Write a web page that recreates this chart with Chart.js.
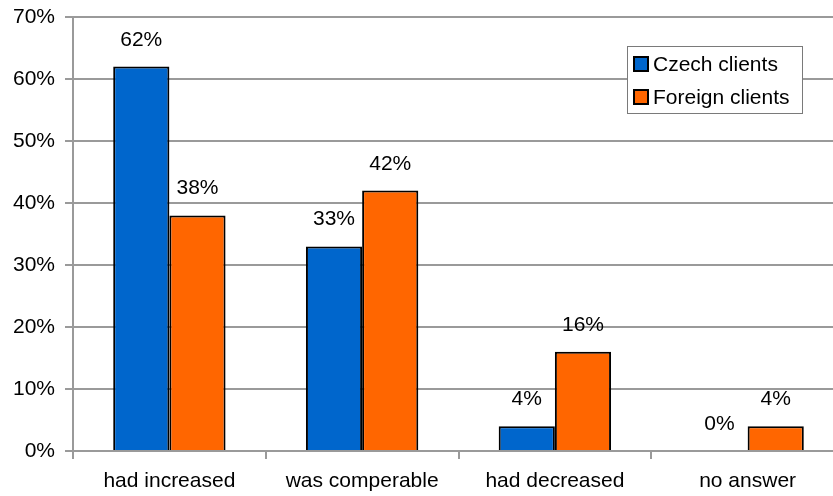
<!DOCTYPE html>
<html>
<head>
<meta charset="utf-8">
<script src="https://cdn.jsdelivr.net/npm/chart.js@4/dist/chart.umd.min.js"></script>
<style>
  html, body { margin: 0; padding: 0; background: #fff; overflow: hidden; }
  #wrap { position: relative; width: 846px; height: 496px; }
</style>
</head>
<body>
<div id="wrap"><canvas id="c"></canvas></div>
<script>
// Survey answers by category
const categories = ['had increased', 'was comperable', 'had decreased', 'no answer'];
const czechClients = [62, 33, 4, 0];
const foreignClients = [38, 42, 16, 4];
const yTicks = [0, 10, 20, 30, 40, 50, 60, 70];

const FONT = '"Liberation Sans", Arial, sans-serif';
const FONT_SIZE = 21;
const BLUE = '#0066CC';
const ORANGE = '#FF6600';
const GRID = '#9a9a9a';

// Percent labels drawn above every bar
const valueLabels = {
  id: 'valueLabels',
  afterDatasetsDraw(chart) {
    const ctx = chart.ctx;
    ctx.save();
    ctx.font = FONT_SIZE + 'px ' + FONT;
    ctx.fillStyle = '#000';
    ctx.textAlign = 'center';
    ctx.textBaseline = 'alphabetic';
    chart.data.datasets.forEach((ds, di) => {
      const meta = chart.getDatasetMeta(di);
      meta.data.forEach((bar, i) => {
        ctx.fillText(ds.data[i] + '%', bar.x, bar.y - 21);
      });
    });
    ctx.restore();
  }
};

// Boxed legend placed inside the plot area
const boxLegend = {
  id: 'boxLegend',
  afterDraw(chart) {
    const ctx = chart.ctx;
    const x = 627, y = 46, w = 175, h = 67;
    ctx.save();
    ctx.fillStyle = '#fff';
    ctx.fillRect(x, y, w, h);
    ctx.strokeStyle = '#7a7a7a';
    ctx.lineWidth = 1;
    ctx.strokeRect(x + 0.5, y + 0.5, w, h);
    ctx.font = FONT_SIZE + 'px ' + FONT;
    ctx.textBaseline = 'middle';
    ctx.textAlign = 'left';
    chart.data.datasets.forEach((ds, i) => {
      const cy = y + 18 + i * 33;
      ctx.fillStyle = ds.backgroundColor;
      ctx.fillRect(x + 7, cy - 7, 14, 14);
      ctx.strokeStyle = '#000';
      ctx.lineWidth = 2;
      ctx.strokeRect(x + 7, cy - 7, 14, 14);
      ctx.fillStyle = '#000';
      ctx.fillText(ds.label, x + 26, cy + 1);
    });
    ctx.restore();
  }
};

new Chart(document.getElementById('c'), {
  type: 'bar',
  data: {
    labels: categories,
    datasets: [
      { label: 'Czech clients', data: czechClients, backgroundColor: BLUE, borderColor: '#000', borderWidth: 2, borderSkipped: 'bottom' },
      { label: 'Foreign clients', data: foreignClients, backgroundColor: ORANGE, borderColor: '#000', borderWidth: 2, borderSkipped: 'bottom' }
    ]
  },
  options: {
    responsive: true,
    maintainAspectRatio: false,
    animation: false,
    events: [],
    datasets: { bar: { categoryPercentage: 0.583, barPercentage: 1 } },
    layout: { padding: { top: 17, right: 2, left: 0, bottom: 0 } },
    plugins: { legend: { display: false }, tooltip: { enabled: false } },
    scales: {
      x: {
        grid: { display: true, drawOnChartArea: false, drawTicks: true, tickLength: 8, color: GRID, lineWidth: 2, offset: true },
        border: { display: true, color: GRID, width: 2 },
        ticks: { color: '#000', font: { family: FONT, size: FONT_SIZE }, padding: 10, maxRotation: 0 },
        afterFit(s) { s.height = 45; s.paddingLeft = 0; s.paddingRight = 0; }
      },
      y: {
        min: 0, max: 70,
        afterBuildTicks(s) { s.ticks = yTicks.map(v => ({ value: v })); },
        grid: { color: GRID, lineWidth: 2, tickLength: 8 },
        border: { display: true, color: GRID, width: 2 },
        ticks: { color: '#000', font: { family: FONT, size: FONT_SIZE }, padding: 10, callback: v => v + '%' },
        afterFit(s) { s.width = 73; s.paddingTop = 0; s.paddingBottom = 0; }
      }
    }
  },
  plugins: [valueLabels, boxLegend]
});
</script>
</body>
</html>
